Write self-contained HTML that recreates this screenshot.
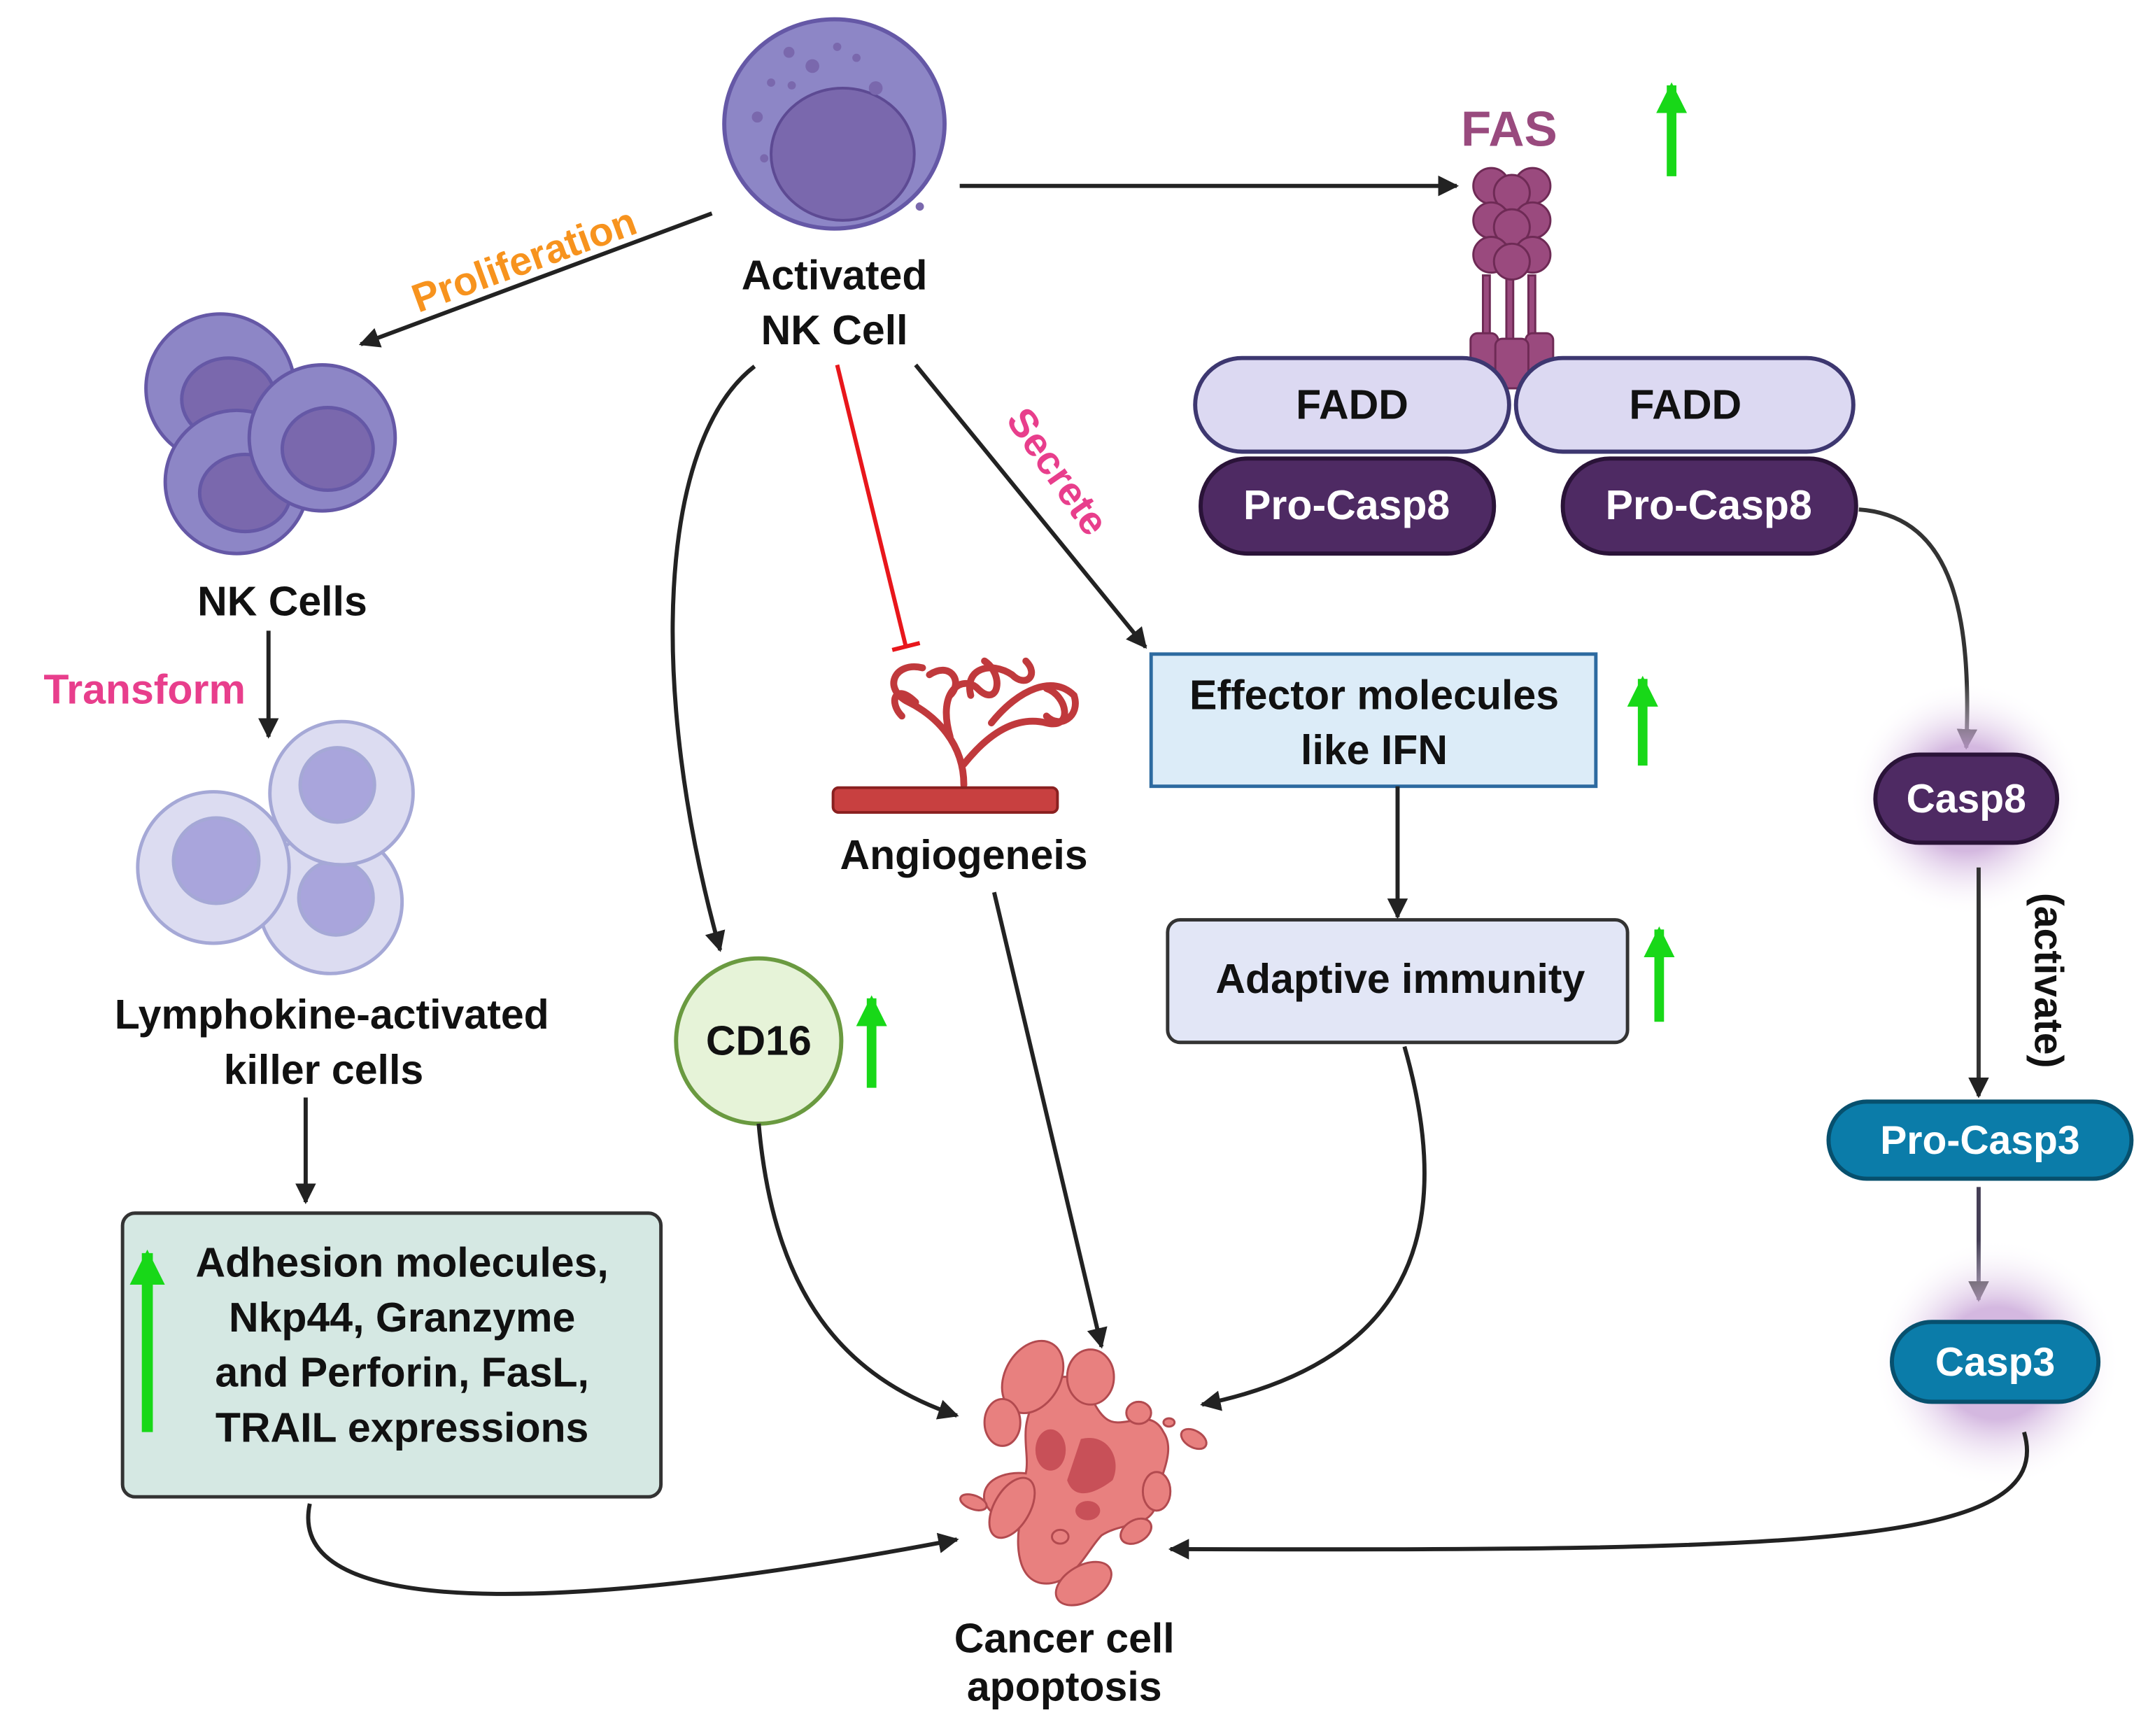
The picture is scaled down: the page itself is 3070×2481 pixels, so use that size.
<!DOCTYPE html>
<html><head><meta charset="utf-8"><style>
html,body{margin:0;padding:0;background:#fff}
svg{display:block}
text{font-family:"Liberation Sans",sans-serif;font-weight:bold}
</style></head><body>
<svg width="3070" height="2481" viewBox="0 0 1560 1260.7" preserveAspectRatio="none" xmlns="http://www.w3.org/2000/svg">
<defs>
<marker id="ah" viewBox="0 0 10 10" refX="9" refY="5" markerWidth="5" markerHeight="5" orient="auto-start-reverse"><path d="M0,0 L10,5 L0,10 z" fill="#222"/></marker>
<marker id="ahg" viewBox="0 0 10 10" refX="9" refY="5" markerWidth="3.2" markerHeight="3.2" orient="auto"><path d="M0,0 L10,5 L0,10 z" fill="#18d818"/></marker>
<radialGradient id="glow"><stop offset="0.45" stop-color="#c9a6d8" stop-opacity="0.8"/><stop offset="1" stop-color="#fff" stop-opacity="0"/></radialGradient>
</defs>

<!-- Activated NK cell -->
<ellipse cx="606" cy="90" rx="80" ry="76" fill="#8d86c6" stroke="#6558a6" stroke-width="3"/>
<ellipse cx="612" cy="112" rx="52" ry="48" fill="#7a68ad" stroke="#5d4a93" stroke-width="2"/>
<g fill="#7a68ad"><circle cx="573" cy="38" r="4"/><circle cx="590" cy="48" r="5"/><circle cx="608" cy="34" r="3"/><circle cx="622" cy="42" r="3"/><circle cx="560" cy="60" r="3"/><circle cx="575" cy="62" r="3"/><circle cx="550" cy="85" r="4"/><circle cx="636" cy="64" r="5"/><circle cx="555" cy="115" r="3"/><circle cx="668" cy="150" r="3"/></g>
<text x="606" y="210" font-size="30" text-anchor="middle" fill="#111">Activated</text>
<text x="606" y="250" font-size="30" text-anchor="middle" fill="#111">NK Cell</text>

<!-- arrow to FAS -->
<line x1="697" y1="135" x2="1058" y2="135" stroke="#222" stroke-width="3" marker-end="url(#ah)"/>
<text x="1096" y="106" font-size="36" text-anchor="middle" fill="#994a7e">FAS</text>
<line x1="1214" y1="128" x2="1214" y2="62" stroke="#18d818" stroke-width="7" marker-end="url(#ahg)"/>

<!-- FAS receptor -->
<g fill="#9a4a7e" stroke="#6e2a55" stroke-width="1.5">
<rect x="1077" y="200" width="5" height="50"/><rect x="1094" y="200" width="5" height="50"/><rect x="1110" y="200" width="5" height="50"/>
<circle cx="1083" cy="135" r="13"/><circle cx="1113" cy="135" r="13"/><circle cx="1098" cy="140" r="13"/>
<circle cx="1083" cy="160" r="13"/><circle cx="1113" cy="160" r="13"/><circle cx="1098" cy="165" r="13"/>
<circle cx="1083" cy="185" r="13"/><circle cx="1113" cy="185" r="13"/><circle cx="1098" cy="190" r="13"/>
<rect x="1068" y="242" width="20" height="34" rx="5"/><rect x="1108" y="242" width="20" height="34" rx="5"/><rect x="1086" y="246" width="24" height="36" rx="5"/>
</g>

<!-- FADD -->
<rect x="868" y="260" width="228" height="68" rx="34" fill="#dcd9f2" stroke="#3d3770" stroke-width="3"/>
<rect x="1101" y="260" width="245" height="68" rx="34" fill="#dcd9f2" stroke="#3d3770" stroke-width="3"/>
<text x="982" y="304" font-size="30" text-anchor="middle" fill="#111">FADD</text>
<text x="1224" y="304" font-size="30" text-anchor="middle" fill="#111">FADD</text>
<rect x="872" y="333" width="213" height="69" rx="34" fill="#4e2a63" stroke="#2a1338" stroke-width="3"/>
<rect x="1135" y="333" width="213" height="69" rx="34" fill="#4e2a63" stroke="#2a1338" stroke-width="3"/>
<text x="978" y="377" font-size="30" text-anchor="middle" fill="#fff">Pro-Casp8</text>
<text x="1241" y="377" font-size="30" text-anchor="middle" fill="#fff">Pro-Casp8</text>

<!-- caspase cascade -->
<path d="M1350,370 C1420,375 1432,450 1428,543" fill="none" stroke="#333" stroke-width="3" marker-end="url(#ah)"/>
<circle cx="1428" cy="580" r="85" fill="url(#glow)"/>
<rect x="1362" y="548" width="132" height="64" rx="32" fill="#4e2a63" stroke="#2a1338" stroke-width="3"/>
<text x="1428" y="590" font-size="29" text-anchor="middle" fill="#fff">Casp8</text>
<line x1="1437" y1="630" x2="1437" y2="796" stroke="#333" stroke-width="3" marker-end="url(#ah)"/>
<text x="0" y="0" font-size="29" text-anchor="middle" fill="#111" transform="translate(1478,712) rotate(90)">(activate)</text>
<rect x="1328" y="800" width="220" height="56" rx="28" fill="#0b7ca9" stroke="#07506e" stroke-width="3"/>
<text x="1438" y="838" font-size="29" text-anchor="middle" fill="#fff">Pro-Casp3</text>
<line x1="1437" y1="862" x2="1437" y2="944" stroke="#443e55" stroke-width="3" marker-end="url(#ah)"/>
<circle cx="1450" cy="990" r="90" fill="url(#glow)"/>
<rect x="1374" y="960" width="150" height="58" rx="29" fill="#0b7ca9" stroke="#07506e" stroke-width="3"/>
<text x="1449" y="999" font-size="29" text-anchor="middle" fill="#fff">Casp3</text>
<path d="M1470,1040 C1495,1125 1300,1126 850,1125" fill="none" stroke="#222" stroke-width="3" marker-end="url(#ah)"/>

<!-- Proliferation -->
<line x1="517" y1="155" x2="262" y2="250" stroke="#222" stroke-width="3" marker-end="url(#ah)"/>
<text x="0" y="0" font-size="29" text-anchor="middle" fill="#f7931e" transform="translate(384,198) rotate(-20)">Proliferation</text>

<!-- NK cells -->
<g stroke="#6558a6" stroke-width="2.5">
<circle cx="160" cy="282" r="54" fill="#8d86c6"/><ellipse cx="166" cy="290" rx="34" ry="30" fill="#7a68ad"/>
<circle cx="172" cy="350" r="52" fill="#8d86c6"/><ellipse cx="178" cy="358" rx="33" ry="28" fill="#7a68ad"/>
<circle cx="234" cy="318" r="53" fill="#8d86c6"/><ellipse cx="238" cy="326" rx="33" ry="30" fill="#7a68ad"/>
</g>
<text x="205" y="447" font-size="30" text-anchor="middle" fill="#111">NK Cells</text>
<text x="105" y="511" font-size="30" text-anchor="middle" fill="#e83e8c">Transform</text>
<line x1="195" y1="458" x2="195" y2="535" stroke="#222" stroke-width="3" marker-end="url(#ah)"/>

<!-- LAK cells -->
<g stroke="#a5a8d6" stroke-width="2.5">
<circle cx="240" cy="655" r="52" fill="#dcdcf1"/><circle cx="244" cy="652" r="27" fill="#a9a5dc"/>
<circle cx="155" cy="630" r="55" fill="#dcdcf1"/><circle cx="157" cy="625" r="31" fill="#a9a5dc"/>
<circle cx="248" cy="576" r="52" fill="#dcdcf1"/><circle cx="245" cy="570" r="27" fill="#a9a5dc"/>
</g>
<text x="241" y="747" font-size="30" text-anchor="middle" fill="#111">Lymphokine-activated</text>
<text x="235" y="787" font-size="30" text-anchor="middle" fill="#111">killer cells</text>
<line x1="222" y1="797" x2="222" y2="873" stroke="#222" stroke-width="3" marker-end="url(#ah)"/>

<rect x="89" y="881" width="391" height="206" rx="9" fill="#d5e8e3" stroke="#333" stroke-width="2.5"/>
<g font-size="30" text-anchor="middle" fill="#111">
<text x="292" y="927">Adhesion molecules,</text>
<text x="292" y="967">Nkp44, Granzyme</text>
<text x="292" y="1007">and Perforin, FasL,</text>
<text x="292" y="1047">TRAIL expressions</text>
</g>
<line x1="107" y1="1040" x2="107" y2="910" stroke="#18d818" stroke-width="8" marker-end="url(#ahg)"/>
<path d="M225,1092 C205,1185 450,1165 695,1118" fill="none" stroke="#222" stroke-width="3" marker-end="url(#ah)"/>

<!-- CD16 -->
<path d="M548,266 C478,320 470,500 523,690" fill="none" stroke="#222" stroke-width="3" marker-end="url(#ah)"/>
<circle cx="551" cy="756" r="60" fill="#e6f3d8" stroke="#6a9a40" stroke-width="3"/>
<text x="551" y="766" font-size="30" text-anchor="middle" fill="#111">CD16</text>
<line x1="633" y1="790" x2="633" y2="725" stroke="#18d818" stroke-width="7" marker-end="url(#ahg)"/>
<path d="M551,816 C562,940 612,1000 695,1028" fill="none" stroke="#222" stroke-width="3" marker-end="url(#ah)"/>

<!-- Angiogenesis -->
<line x1="608" y1="265" x2="658" y2="470" stroke="#e8161b" stroke-width="3"/>
<line x1="648" y1="472" x2="668" y2="467" stroke="#e8161b" stroke-width="3"/>
<g fill="none" stroke="#c0393c" stroke-width="5" stroke-linecap="round">
<path d="M700,570 C700,540 680,520 660,510 C640,500 650,480 670,485"/>
<path d="M700,555 C720,530 740,520 760,525 C780,530 775,505 760,500"/>
<path d="M690,535 C680,500 700,490 710,500 C725,515 730,490 715,480"/>
<path d="M665,510 C650,495 645,510 655,520"/>
<path d="M720,525 C740,500 765,490 780,505 C785,520 770,530 760,520"/>
<path d="M705,505 C700,485 720,480 735,490 C745,500 755,490 745,480"/>
<path d="M675,490 C690,480 700,495 690,505"/>
</g>
<rect x="605" y="572" width="163" height="18" rx="4" fill="#c84040" stroke="#8a2020" stroke-width="2"/>
<text x="700" y="631" font-size="30" text-anchor="middle" fill="#111">Angiogeneis</text>
<line x1="722" y1="648" x2="800" y2="978" stroke="#222" stroke-width="3" marker-end="url(#ah)"/>

<!-- Secrete -->
<line x1="665" y1="265" x2="832" y2="470" stroke="#222" stroke-width="3" marker-end="url(#ah)"/>
<text x="0" y="0" font-size="29" text-anchor="middle" fill="#e83e8c" transform="translate(760,348) rotate(55)">Secrete</text>
<rect x="836" y="475" width="323" height="96" fill="#dcecf8" stroke="#2d6aa0" stroke-width="2.5"/>
<text x="998" y="515" font-size="30" text-anchor="middle" fill="#111">Effector molecules</text>
<text x="998" y="555" font-size="30" text-anchor="middle" fill="#111">like IFN</text>
<line x1="1193" y1="556" x2="1193" y2="493" stroke="#18d818" stroke-width="7" marker-end="url(#ahg)"/>
<line x1="1015" y1="571" x2="1015" y2="666" stroke="#222" stroke-width="3" marker-end="url(#ah)"/>
<rect x="848" y="668" width="334" height="89" rx="9" fill="#e2e6f6" stroke="#333" stroke-width="2.5"/>
<text x="1017" y="721" font-size="30" text-anchor="middle" fill="#111">Adaptive immunity</text>
<line x1="1205" y1="742" x2="1205" y2="675" stroke="#18d818" stroke-width="7" marker-end="url(#ahg)"/>
<path d="M1020,760 C1060,900 1020,990 873,1020" fill="none" stroke="#222" stroke-width="3" marker-end="url(#ah)"/>

<!-- Cancer cell -->
<g fill="#e8807f" stroke="#b24a4f" stroke-width="1.5">
<path d="M760,1003 C790,990 790,1020 803,1030 C815,1040 835,1020 845,1040 C855,1055 840,1075 840,1090 C838,1110 815,1105 800,1115 C790,1125 780,1150 760,1150 C740,1150 738,1125 740,1110 C735,1100 720,1105 715,1090 C712,1075 730,1068 745,1070 C748,1055 740,1040 750,1020 Z"/>
<ellipse cx="750" cy="1000" rx="20" ry="28" transform="rotate(30 750 1000)"/>
<ellipse cx="792" cy="1000" rx="17" ry="20"/>
<ellipse cx="728" cy="1033" rx="13" ry="17"/>
<ellipse cx="827" cy="1026" rx="9" ry="8"/>
<ellipse cx="849" cy="1033" rx="4" ry="3"/>
<ellipse cx="867" cy="1045" rx="10" ry="6" transform="rotate(30 867 1045)"/>
<ellipse cx="840" cy="1083" rx="10" ry="14"/>
<ellipse cx="735" cy="1095" rx="13" ry="24" transform="rotate(30 735 1095)"/>
<ellipse cx="707" cy="1091" rx="10" ry="5" transform="rotate(20 707 1091)"/>
<ellipse cx="825" cy="1112" rx="12" ry="8" transform="rotate(-30 825 1112)"/>
<ellipse cx="787" cy="1150" rx="22" ry="13" transform="rotate(-30 787 1150)"/>
<ellipse cx="770" cy="1116" rx="6" ry="5"/>
</g>
<g fill="#c85058"><path d="M785,1045 C805,1040 815,1060 808,1075 C795,1085 780,1090 775,1075 Z"/><ellipse cx="763" cy="1053" rx="11" ry="15"/><ellipse cx="790" cy="1097" rx="9" ry="7"/></g>
<text x="773" y="1200" font-size="30" text-anchor="middle" fill="#111">Cancer cell</text>
<text x="773" y="1235" font-size="30" text-anchor="middle" fill="#111">apoptosis</text>
</svg>
</body></html>
